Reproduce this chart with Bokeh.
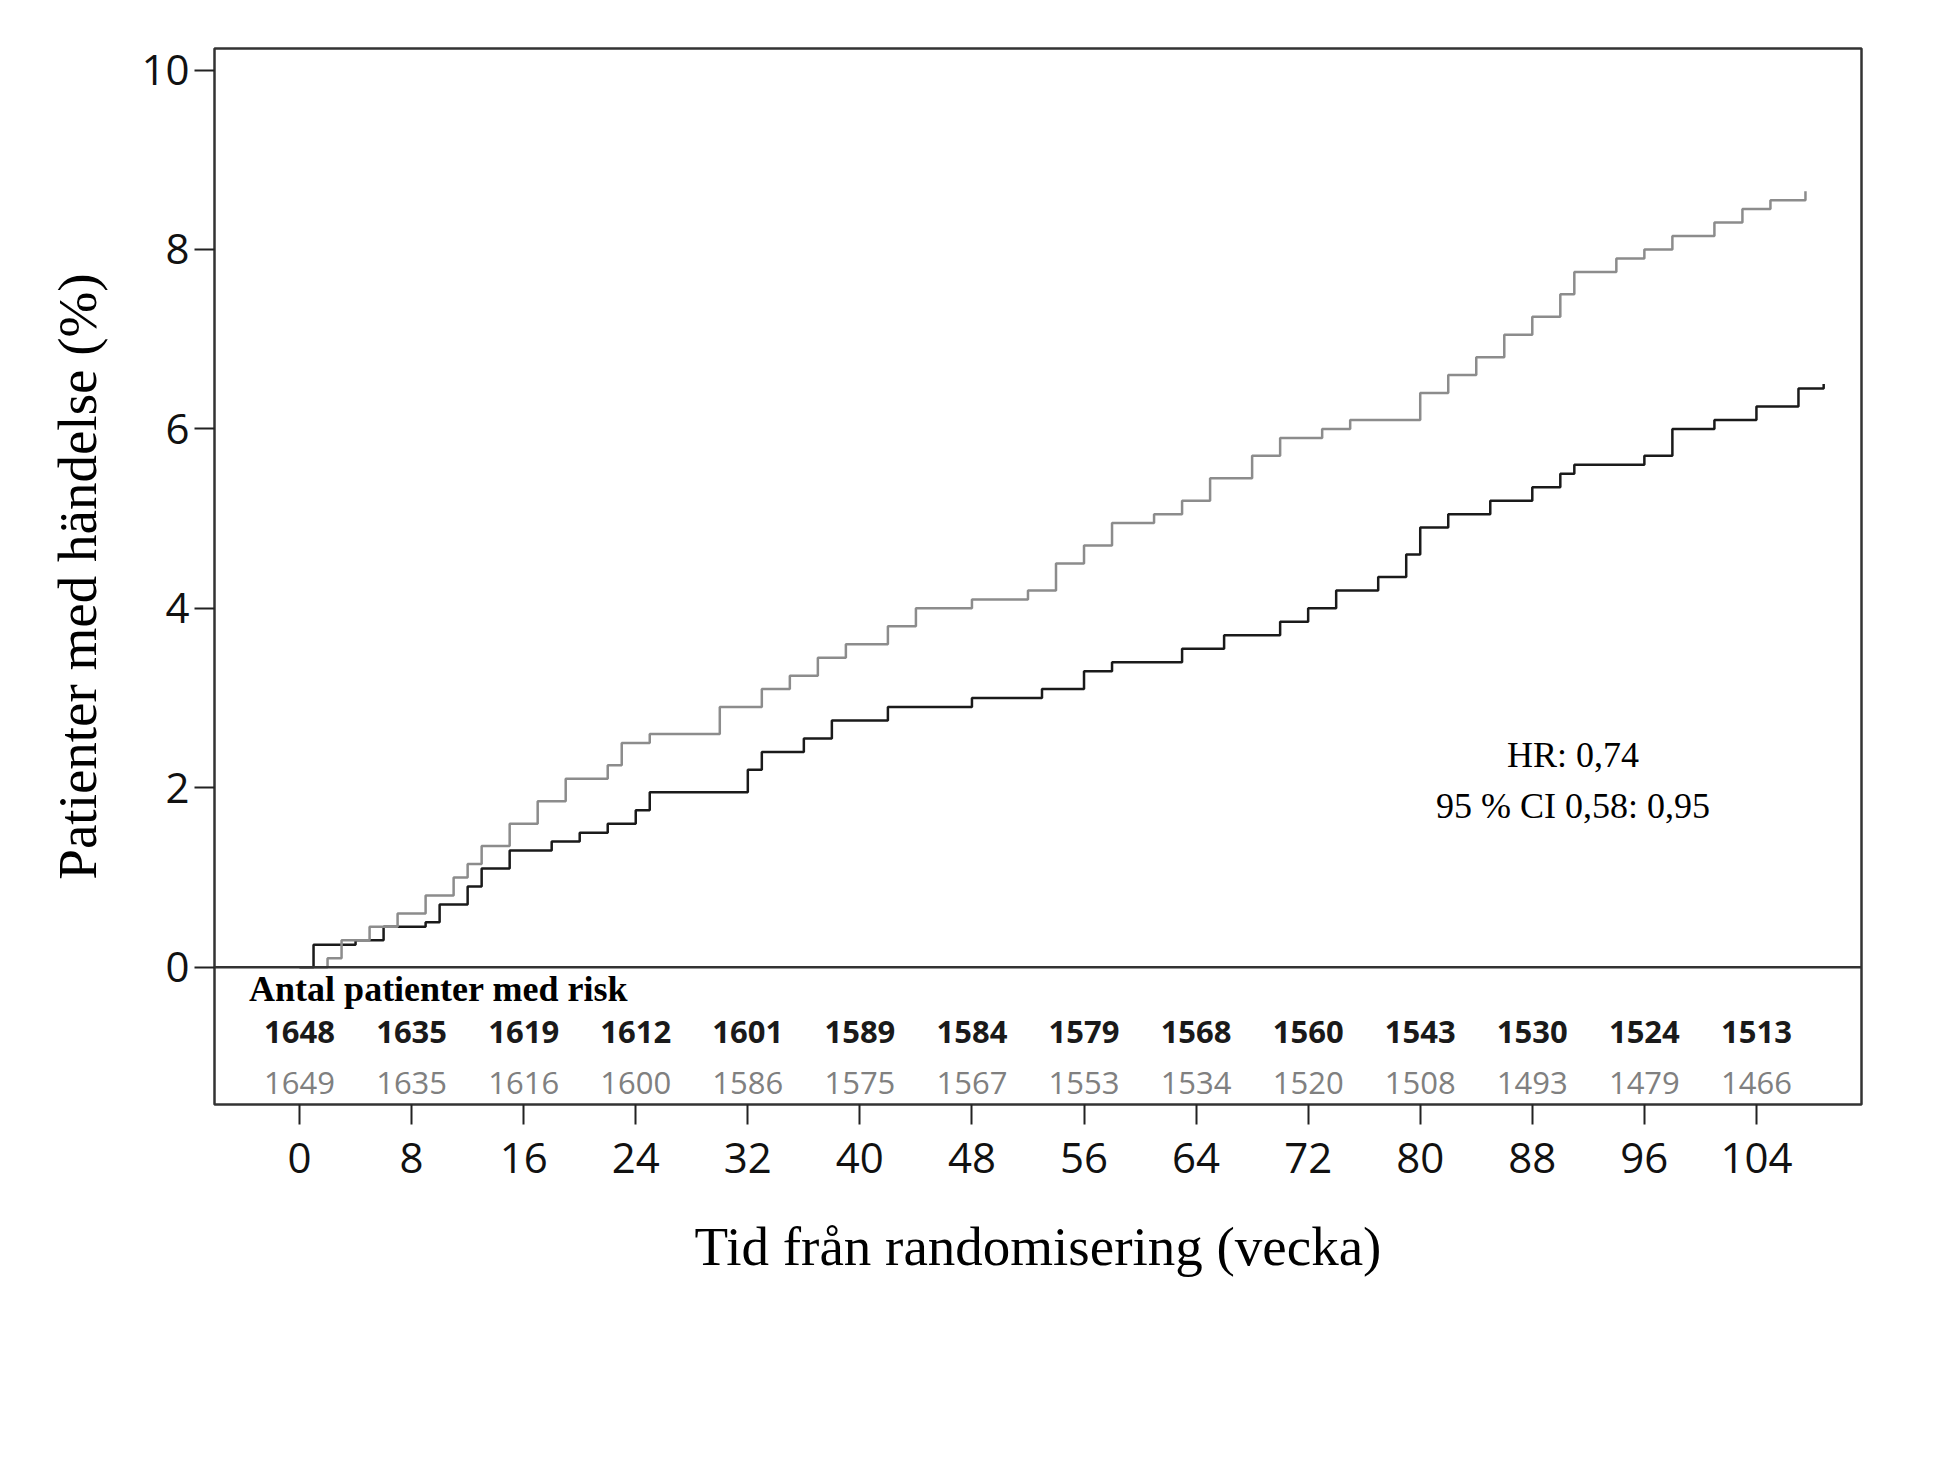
from bokeh.plotting import figure
from bokeh.models import FixedTicker, Span, Label, Legend, LegendItem, Range1d
from bokeh.embed import file_html
from bokeh.resources import INLINE

weeks_sema = [0,1,4,6,9,10,12,13,15,18,20,22,24,25,30,32,33,36,38,42,48,53,56,58,63,66,70,72,74,77,79,80,82,85,88,90,91,96,98,101,104,107,108.8]
vals_sema = [0,0.25,0.3,0.45,0.5,0.7,0.9,1.1,1.3,1.4,1.5,1.6,1.75,1.95,1.95,2.2,2.4,2.55,2.75,2.9,3.0,3.1,3.3,3.4,3.55,3.7,3.85,4.0,4.2,4.35,4.6,4.9,5.05,5.2,5.35,5.5,5.6,5.7,6.0,6.1,6.25,6.45,6.5]
weeks_plac = [0,2,3,5,7,9,11,12,13,15,17,19,22,23,25,29,30,33,35,37,39,42,44,48,52,54,56,58,61,63,65,68,70,73,75,78,80,82,84,86,88,90,91,94,96,98,101,103,105,107.5]
vals_plac = [0,0.1,0.3,0.45,0.6,0.8,1.0,1.15,1.35,1.6,1.85,2.1,2.25,2.5,2.6,2.6,2.9,3.1,3.25,3.45,3.6,3.8,4.0,4.1,4.2,4.5,4.7,4.95,5.05,5.2,5.45,5.7,5.9,6.0,6.1,6.1,6.4,6.6,6.8,7.05,7.25,7.5,7.75,7.9,8.0,8.15,8.3,8.45,8.55,8.65]
risk_weeks = [0,8,16,24,32,40,48,56,64,72,80,88,96,104]
risk_sema = [1648,1635,1619,1612,1601,1589,1584,1579,1568,1560,1543,1530,1524,1513]
risk_plac = [1649,1635,1616,1600,1586,1575,1567,1553,1534,1520,1508,1493,1479,1466]
y_ticks = [0,2,4,6,8,10]

SANS = "Open Sans"
SERIF = "Liberation Serif"

p = figure(frame_width=1647, frame_height=1056, output_backend="svg", toolbar_location=None,
           x_range=Range1d(-6.07, 111.5), y_range=Range1d(-1.53, 10.24),
           min_border_left=214, min_border_top=48, min_border_right=69, min_border_bottom=20)
p.grid.visible = False
p.outline_line_color = "#333333"
p.outline_line_width = 2.5
p.background_fill_color = "white"
p.border_fill_color = "white"

p.xaxis.ticker = FixedTicker(ticks=risk_weeks)
p.yaxis.ticker = FixedTicker(ticks=y_ticks)
for ax in (p.xaxis[0], p.yaxis[0]):
    ax.axis_line_color = None
    ax.major_tick_in = 0
    ax.major_tick_out = 20
    ax.major_tick_line_width = 2
    ax.major_tick_line_color = "#222222"
    ax.minor_tick_line_color = None
    ax.major_label_text_font = SANS
    ax.major_label_text_font_size = "42px"
    ax.major_label_text_color = "#111111"
    ax.axis_label_text_font = SERIF
    ax.axis_label_text_font_style = "normal"
    ax.axis_label_text_font_size = "55px"
    ax.axis_label_text_color = "black"
p.xaxis.major_label_standoff = 18
p.xaxis.axis_label = "Tid från randomisering (vecka)"
p.xaxis.axis_label_standoff = 40
p.yaxis.axis_label = "Patienter med händelse (%)"
p.yaxis.axis_label_standoff = 30

p.add_layout(Span(location=0, dimension="width", line_color="#333333", line_width=2.5))

r1 = p.step(weeks_sema, vals_sema, mode="after", line_color="#1a1a1a", line_width=2.5)
r2 = p.step(weeks_plac, vals_plac, mode="after", line_color="#8c8c8c", line_width=2.5)

p.text(risk_weeks, [-0.72]*len(risk_weeks), text=[str(v) for v in risk_sema],
       text_align="center", text_baseline="middle", text_font={"value": SANS},
       text_font_size="31px", text_font_style="bold", text_color="#1a1a1a")
p.text(risk_weeks, [-1.29]*len(risk_weeks), text=[str(v) for v in risk_plac],
       text_align="center", text_baseline="middle", text_font={"value": SANS},
       text_font_size="31px", text_color="#808080")

p.add_layout(Label(x=-3.6, y=-0.24, text="Antal patienter med risk", text_font=SERIF,
                   text_font_style="bold", text_font_size="36px", text_baseline="middle",
                   text_color="black"))
p.add_layout(Label(x=-200, y=-0.58, x_units="screen", text="Semaglutid", text_font=SERIF,
                   text_font_style="bold", text_font_size="35px", text_baseline="middle",
                   text_color="black"))
p.add_layout(Label(x=-207, y=-1.18, x_units="screen", text="Placebo", text_font=SERIF,
                   text_font_style="bold", text_font_size="35px", text_baseline="middle",
                   text_color="#808080"))
p.add_layout(Label(x=90.9, y=2.36, text="HR: 0,74", text_font=SERIF, text_font_size="36px",
                   text_align="center", text_baseline="middle", text_color="black"))
p.add_layout(Label(x=90.9, y=1.8, text="95 % CI 0,58: 0,95", text_font=SERIF, text_font_size="36px",
                   text_align="center", text_baseline="middle", text_color="black"))

legend = Legend(items=[LegendItem(label="Semaglutid subkutan", renderers=[r1]),
                       LegendItem(label="Placebo", renderers=[r2])],
                orientation="horizontal", location="center",
                label_text_font=SERIF, label_text_font_size="46px", label_text_color="black",
                glyph_width=140, glyph_height=30, label_standoff=70, spacing=326,
                border_line_color=None, margin=30, padding=10)
p.add_layout(legend, "below")

open("out.html", "w").write(file_html(p, INLINE))
